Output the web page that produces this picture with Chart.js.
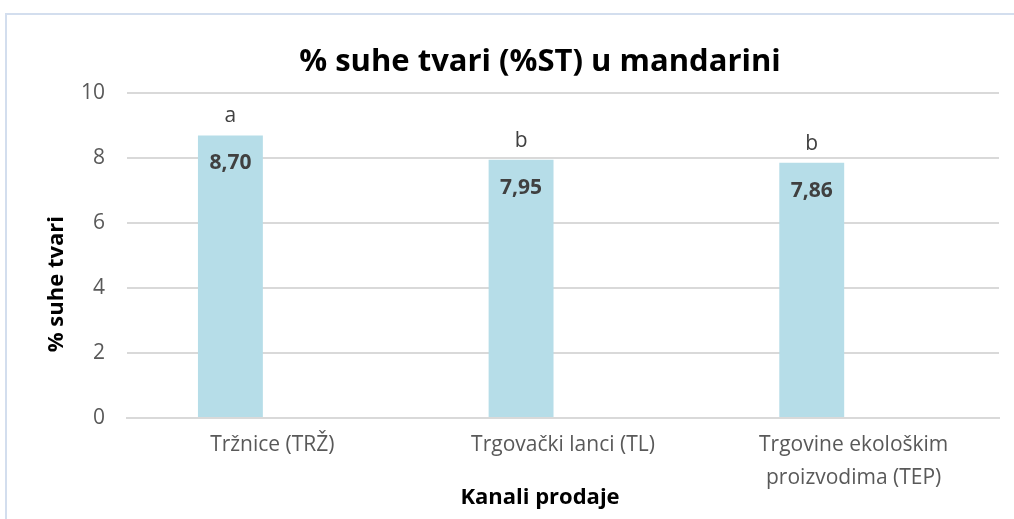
<!DOCTYPE html>
<html>
<head>
<meta charset="utf-8">
<script src="https://cdn.jsdelivr.net/npm/chart.js@4"></script>
<style>
  html, body { margin: 0; padding: 0; background: #fff; overflow: hidden; }
  #wrap { position: absolute; left: 0; top: 0; width: 1080px; height: 519px; }
  #frame { position: absolute; left: 5px; top: 13px; width: 1200px; height: 600px;
           border-left: 2px solid #d3deee; border-top: 2px solid #d3deee; pointer-events: none; }
</style>
</head>
<body>
<div id="wrap"><canvas id="c" width="1080" height="519"></canvas></div>
<div id="frame"></div>
<script>
// chart data
const categories = [['Tržnice (TRŽ)'], ['Trgovački lanci (TL)'], ['Trgovine ekološkim', 'proizvodima (TEP)']];
const values = [8.70, 7.95, 7.86];
const emptySeries = [null, null, null]; // second (blank) series of the original chart
const letters = ['a', 'b', 'b'];
const yTicks = [0, 2, 4, 6, 8, 10];
const xTitle = 'Kanali prodaje';
const yTitle = '% suhe tvari';

const fontFam = "'Open Sans', 'Noto Sans', sans-serif";

// value labels inside bars, letters above them
const barLabels = {
    id: 'barLabels',
    afterDatasetsDraw(chart) {
        const ctx = chart.ctx;
        const meta = chart.getDatasetMeta(0);
        ctx.save();
        ctx.textAlign = 'center';
        ctx.textBaseline = 'middle';
        ctx.fillStyle = '#404040';
        meta.data.forEach((bar, i) => {
            ctx.font = 'bold 21px ' + fontFam;
            ctx.fillText(values[i].toFixed(2).replace('.', ','), bar.x, bar.y + 28);
            ctx.font = '21px ' + fontFam;
            ctx.fillText(letters[i], bar.x, bar.y - 19);
        });
        ctx.restore();
    }
};

// axis titles are centred on the whole chart box, like in the original
const axisTitles = {
    id: 'axisTitles',
    afterDraw(chart) {
        const ctx = chart.ctx;
        ctx.save();
        ctx.fillStyle = '#000';
        ctx.textAlign = 'center';
        ctx.textBaseline = 'middle';
        ctx.font = 'bold 22px ' + fontFam;
        ctx.fillText(xTitle, chart.width / 2, chart.height - 21);
        ctx.translate(57, (chart.chartArea.top + chart.height) / 2 - 22);
        ctx.rotate(-Math.PI / 2);
        ctx.fillText(yTitle, 0, 0);
        ctx.restore();
    }
};

new Chart(document.getElementById('c'), {
    type: 'bar',
    data: {
        labels: categories,
        datasets: [{
            data: values,
            backgroundColor: '#b6dde8',
            barPercentage: 0.774,
            categoryPercentage: 0.577
        }, {
            data: emptySeries,
            backgroundColor: '#b6dde8',
            barPercentage: 0.774,
            categoryPercentage: 0.577
        }]
    },
    options: {
        responsive: false,
        animation: false,
        layout: { padding: 0 },
        plugins: {
            legend: { display: false },
            tooltip: { enabled: false },
            title: {
                display: true,
                text: '% suhe tvari (%ST) u mandarini',
                color: '#000',
                font: { family: fontFam, size: 31, weight: 'bold', lineHeight: 1.2 },
                padding: { top: 43.4, bottom: 12.6 }
            }
        },
        scales: {
            x: {
                afterFit(scale) { scale.height = 101; },
                grid: { display: false, drawTicks: false },
                border: { color: '#d9d9d9', width: 2 },
                ticks: {
                    color: '#595959',
                    font: { family: fontFam, size: 21, lineHeight: 1.571 },
                    padding: 10.5,
                    maxRotation: 0
                }
            },
            y: {
                min: 0,
                max: 10,
                afterBuildTicks(scale) { scale.ticks = yTicks.map(v => ({ value: v })); },
                afterFit(scale) { scale.width = 127; },
                grid: { color: '#d9d9d9', lineWidth: 2, drawTicks: false },
                border: { display: false },
                ticks: {
                    color: '#595959',
                    font: { family: fontFam, size: 21 },
                    padding: 22
                }
            },
            yRight: {
                position: 'right',
                afterFit(scale) { scale.width = 81; },
                grid: { display: false, drawTicks: false },
                border: { display: false },
                ticks: { display: false }
            }
        }
    },
    plugins: [barLabels, axisTitles]
});
</script>
</body>
</html>
